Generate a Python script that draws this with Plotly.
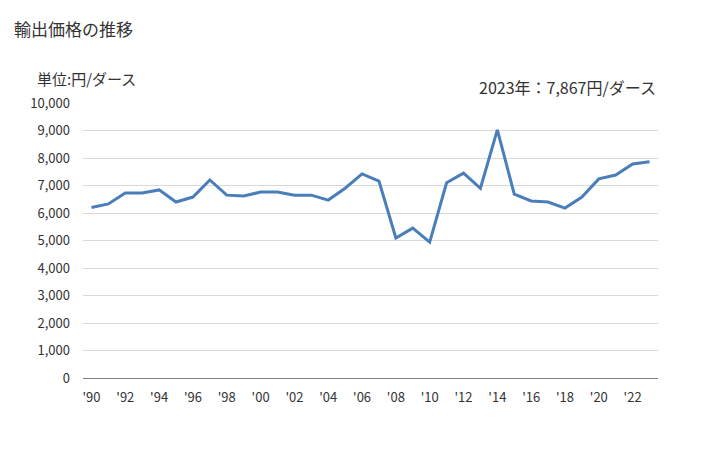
import plotly.graph_objects as go

years = list(range(1990, 2024))
values = [6200, 6330, 6730, 6730, 6840, 6400, 6580, 7200, 6650, 6620,
          6760, 6760, 6650, 6650, 6470, 6900, 7420, 7160, 5090, 5450,
          4940, 7100, 7450, 6900, 9020, 6690, 6440, 6400, 6180, 6580,
          7240, 7380, 7780, 7867]
tick_years = list(range(1990, 2024, 2))
tick_labels = ["'" + str(y)[2:] for y in tick_years]
y_ticks = list(range(0, 10001, 1000))
y_labels = [f"{v:,}" for v in y_ticks]

font = "Noto Sans CJK JP"
fig = go.Figure()
fig.add_trace(go.Scatter(x=years, y=values, mode="lines",
                         line=dict(color="#4a7ebb", width=3), hoverinfo="x+y"))

fig.update_layout(
    width=728, height=450,
    margin=dict(l=83, r=70, t=103, b=72),
    paper_bgcolor="white", plot_bgcolor="white",
    font=dict(family=font, size=13, color="#333333"),
    showlegend=False,
    xaxis=dict(range=[1989.5, 2023.5], tickvals=tick_years, ticktext=tick_labels,
               showgrid=False, zeroline=False, showline=False, ticks="",
               ticklabelstandoff=10,
               tickfont=dict(size=13, color="#333333")),
    yaxis=dict(range=[0, 10000], tickvals=y_ticks, ticktext=y_labels,
               showgrid=True, gridcolor="#d9d9d9", gridwidth=1, zeroline=True,
               zerolinecolor="#808080", zerolinewidth=1, ticks="",
               ticklabelstandoff=12,
               tickfont=dict(size=13, color="#333333")),
    annotations=[
        dict(text="輸出価格の推移", x=12, y=28, xref="paper", yref="paper",
             showarrow=False, xanchor="left", yanchor="middle",
             font=dict(size=17, color="#333333")),
        dict(text="単位:円/ダース", x=35, y=78, showarrow=False,
             xanchor="left", yanchor="middle", font=dict(size=15, color="#333333")),
        dict(text="2023年：7,867円/ダース", x=658, y=87, showarrow=False,
             xanchor="right", yanchor="middle", font=dict(size=16, color="#333333")),
    ],
)
# convert pixel positions of annotations to paper coords
pw, ph = 728 - 83 - 70, 450 - 103 - 72
for a in fig.layout.annotations:
    px, py = a.x, a.y
    a.xref = "paper"; a.yref = "paper"
    a.x = (px - 83) / pw
    a.y = (450 - 72 - py) / ph

fig.write_html("out.html")
